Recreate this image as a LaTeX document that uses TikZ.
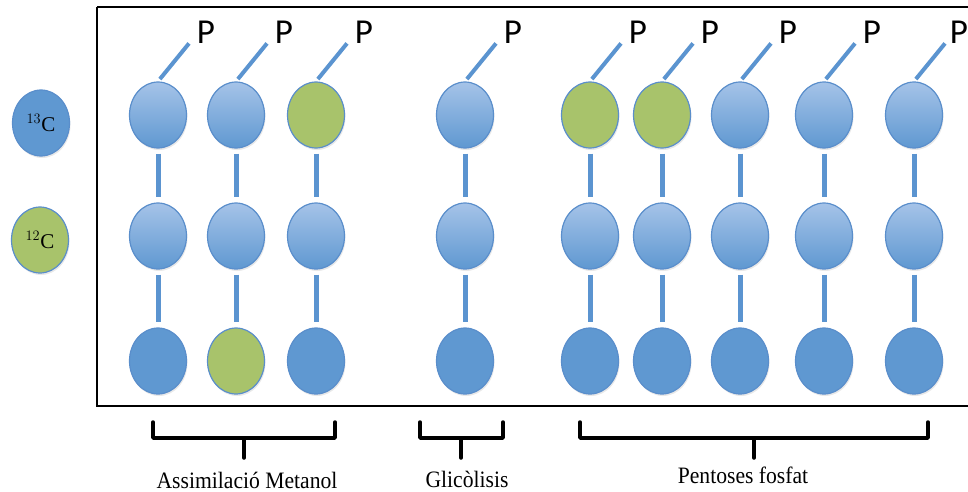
\documentclass[tikz,border=0pt]{standalone}
\usepackage{fontspec}
\setmainfont{Liberation Serif}
\newfontfamily\pfont{Carlito}
\usetikzlibrary{shapes.geometric,shadows,calc}
\definecolor{cblue}{HTML}{5F98D1}
\definecolor{clight}{HTML}{A5C3E8}
\definecolor{cedge}{HTML}{5A8ECB}
\definecolor{cgreen}{HTML}{A8C36B}
\definecolor{clink}{HTML}{5B94D0}
\newcommand{\pathcap}[1]{\scalebox{0.92}[1]{#1}}
\begin{document}
\begin{tikzpicture}[x=1pt,y=-1pt,
  atom/.style={ellipse, minimum width=57pt, minimum height=66pt, inner sep=0pt,
    draw=cedge, line width=1.2pt,
    drop shadow={opacity=0.18, shadow xshift=1pt, shadow yshift=-2pt}},
  grad/.style={atom, top color=clight, bottom color=cblue},
  flat/.style={atom, fill=cblue},
  green/.style={atom, fill=cgreen},
  bond/.style={draw=clink, line width=5pt, shorten <=5pt, shorten >=5pt},
  plink/.style={draw=clink, line width=4pt, shorten <=3pt},
  ptext/.style={font=\pfont\fontsize{35}{40}\selectfont, inner sep=0pt},
  brace/.style={line width=3.5pt, line join=round, line cap=round},
  label/.style={font=\fontsize{23.5}{26}\selectfont, anchor=base, inner sep=0pt},
  legend/.style={atom, font=\fontsize{21}{24}\selectfont}]
\useasboundingbox (0,0) rectangle (968,492);

% frame around the carbon chains
\draw[line width=2.5pt] (97,7) -- (990,7) (97,7) -- (97,406) -- (990,406);

% isotope legend
\node[legend, fill=cblue] (leg13) at (41,123) {$^{13}$C};
\node[legend, fill=cgreen] (leg12) at (40,240) {$^{12}$C};

% three-carbon chains, each with a phosphate on the top carbon
% (x position / colours of the three carbons / horizontal offset of the P)
\foreach \x/\a/\b/\c/\px [count=\i] in {
    158/grad/grad/flat/17, 236/grad/grad/green/17, 316/green/grad/flat/17,
    465/grad/grad/flat/17,
    590/green/grad/flat/17, 662/green/grad/flat/17, 740/grad/grad/flat/17,
    824/grad/grad/flat/17, 914/grad/grad/flat/14} {
  \node[\a] (r1-\i) at (\x,115) {};
  \node[\b] (r2-\i) at (\x,236) {};
  \node[\c] (r3-\i) at (\x,361) {};
  \draw[bond] (r1-\i) -- (r2-\i);
  \draw[bond] (r2-\i) -- (r3-\i);
  \coordinate (t\i) at ($(r1-\i.north)+(31,-38)$);
  \draw[plink] (r1-\i.north) -- (t\i);
  \node[ptext] (p\i) at ($(t\i)+(\px,-11)$) {P};
}

% pathway brackets
\draw[brace] (153,422) -- (153,438) -- (335,438) -- (335,422) (244,438) -- (244,458);
\draw[brace] (420,422) -- (420,438) -- (503,438) -- (503,422) (461,438) -- (461,458);
\draw[brace] (580,422) -- (580,438) -- (928,438) -- (928,422) (754,438) -- (754,458);

\node[label] (lab1) at (247,488) {\pathcap{Assimilació Metanol}};
\node[label] (lab2) at (467,487) {\pathcap{Glicòlisis}};
\node[label] (lab3) at (743,483) {\pathcap{Pentoses fosfat}};
\end{tikzpicture}
\end{document}
